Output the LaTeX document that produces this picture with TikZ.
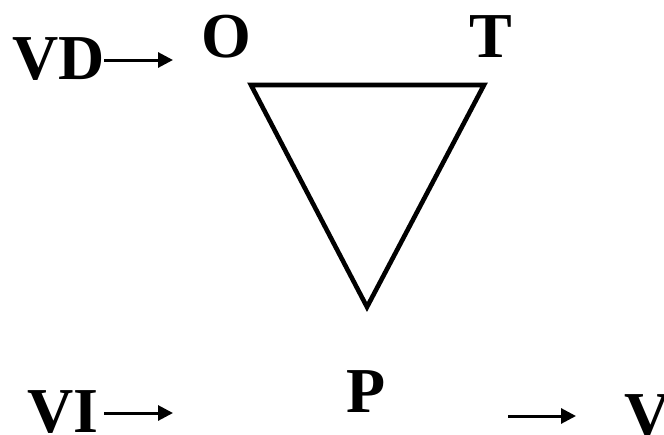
\documentclass[tikz,border=0pt]{standalone}
\usepackage{fontspec}
\setmainfont{Liberation Serif}
\usepackage{tikz}
\usetikzlibrary{arrows.meta,positioning}

\begin{document}
\begin{tikzpicture}[
    x=1pt, y=-1pt,
    lbl/.style={inner sep=0pt, font=\fontsize{64}{64}\selectfont\bfseries},
    arrow/.style={-{Triangle[length=15pt, width=15pt]}, line width=3pt},
    tri/.style={line width=4.6pt, line join=miter}
]
\useasboundingbox (0,0) rectangle (664,434);
\begin{scope}
\clip (0,0) rectangle (664,434);
\node[lbl, anchor=base west] (vd) at (12,79) {VD};
\node[lbl, anchor=base] (o) at (226,57) {O};
\node[lbl, anchor=base] (t) at (491,57) {T};
\node[lbl, anchor=base] (p) at (366,412) {P};
\node[lbl, anchor=base west] (vi) at (27,432) {VI};
\node[lbl, anchor=base west] (v) at (624,436) {V};
\end{scope}
% free arrow ends
\coordinate (vdin) at (104,60);
\coordinate (vdout) at (173,60);
\coordinate (viin) at (104,413);
\coordinate (viout) at (173,413);
\coordinate (vin) at (508,416);
\coordinate (vout) at (576,416);
\draw[arrow] (vdin) -- (vdout);
\draw[arrow] (viin) -- (viout);
\draw[arrow] (vin) -- (vout);
% triangle
\coordinate (co) at (251,85);
\coordinate (ct) at (484,85);
\coordinate (cp) at (367,307);
\draw[tri] (co) -- (ct) -- (cp) -- cycle;
\end{tikzpicture}
\end{document}
